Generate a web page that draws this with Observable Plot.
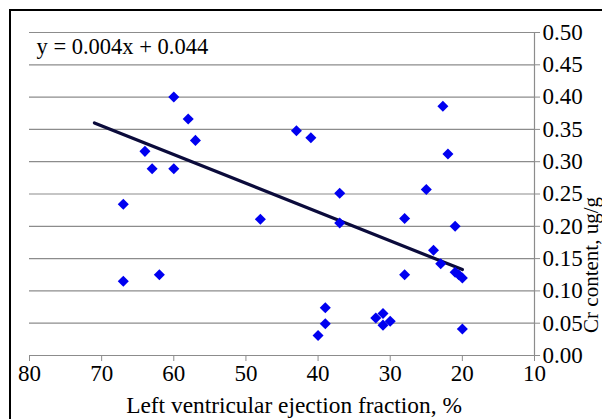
<!DOCTYPE html>
<html>
<head>
<meta charset="utf-8">
<script src="https://cdn.jsdelivr.net/npm/d3@7"></script>
<script src="https://cdn.jsdelivr.net/npm/@observablehq/plot@0.6"></script>
<style>
  html, body { margin: 0; padding: 0; background: #fff; }
  #wrap { position: relative; width: 602px; height: 419px; overflow: hidden; }
  #frame { position: absolute; left: 9px; top: 9px; width: 620px; height: 440px;
           border-left: 2px solid #000; border-top: 2px solid #000; pointer-events: none; }
  #chart { position: absolute; left: 0; top: 0; }
  #chart svg, #chart svg text { font-family: "Liberation Serif", "DejaVu Serif", serif !important; }
</style>
</head>
<body>
<div id="wrap"><div id="chart"></div><div id="frame"></div></div>
<script>
// Data
const ejectionFraction = [60, 58, 57, 64, 63, 60, 67, 43, 41, 22.7, 22, 37, 25, 48, 67, 62,
  37, 28, 21, 24, 23, 28, 21, 20.5, 20, 39, 39, 40, 32, 31, 31, 30, 20];
const crContent = [0.400, 0.366, 0.333, 0.316, 0.289, 0.289, 0.234, 0.348, 0.337, 0.386, 0.312, 0.251, 0.257, 0.211, 0.115, 0.125,
  0.205, 0.212, 0.200, 0.163, 0.142, 0.125, 0.129, 0.125, 0.120, 0.074, 0.049, 0.031, 0.058, 0.065, 0.047, 0.053, 0.041];
const trendX = [71, 20];
const trendY = [0.360, 0.133];
const xTicks = [80, 70, 60, 50, 40, 30, 20, 10];
const yTicks = [0, 0.05, 0.10, 0.15, 0.20, 0.25, 0.30, 0.35, 0.40, 0.45, 0.50];
const equationText = "y = 0.004x + 0.044";
const xLabel = "Left ventricular ejection fraction, %";
const yLabel = "Cr content, ug/g";

const points = ejectionFraction.map((x, i) => ({x, y: crContent[i]}));
const trend = trendX.map((x, i) => ({x, y: trendY[i]}));

const font = "Liberation Serif, DejaVu Serif, serif";

const chart = Plot.plot({
  width: 602,
  height: 419,
  marginLeft: 29,
  marginRight: 68,
  marginTop: 32,
  marginBottom: 64,
  style: {fontFamily: font, fontSize: "23px", background: "transparent", color: "#000"},
  x: {domain: [80, 10]},
  y: {domain: [0, 0.5]},
  marks: [
    Plot.ruleY(yTicks.slice(1), {stroke: "#8c8c8c", strokeWidth: 1.2, strokeOpacity: 1}),
    Plot.ruleX([10], {stroke: "#8c8c8c", strokeWidth: 1.2}),
    Plot.ruleY([0], {stroke: "#8c8c8c", strokeWidth: 1.2}),
    Plot.axisX({ticks: xTicks, tickSize: 6, tickPadding: 3, tickFormat: d => String(d),
      stroke: "#8c8c8c", strokeOpacity: 1, fontSize: 23, fontFamily: font, label: null}),
    Plot.axisY({anchor: "right", ticks: yTicks, tickSize: 5, tickPadding: 3,
      tickFormat: d => d.toFixed(2), stroke: "#8c8c8c", strokeOpacity: 1, fontSize: 23, fontFamily: font, label: null}),
    Plot.line(trend, {x: "x", y: "y", stroke: "#0b0b3b", strokeWidth: 3.2}),
    Plot.dot(points, {x: "x", y: "y", symbol: "square", r: 4.4, rotate: 45, fill: "#0000f0", stroke: "none"}),
    Plot.text([equationText], {frameAnchor: "top-left", dx: 7, dy: 14, textAnchor: "start",
      lineAnchor: "middle", fontSize: 22.5, fontFamily: font, fill: "#000"}),
    Plot.text([xLabel], {frameAnchor: "bottom", dx: 12, dy: 50, lineAnchor: "middle", fontSize: 23.4, fontFamily: font, fill: "#000"}),
    Plot.text([yLabel], {frameAnchor: "right", dx: 57, dy: 3, rotate: -90, lineAnchor: "middle", fontSize: 21, fontFamily: font, fill: "#000"})
  ]
});
document.getElementById("chart").appendChild(chart);
</script>
</body>
</html>
